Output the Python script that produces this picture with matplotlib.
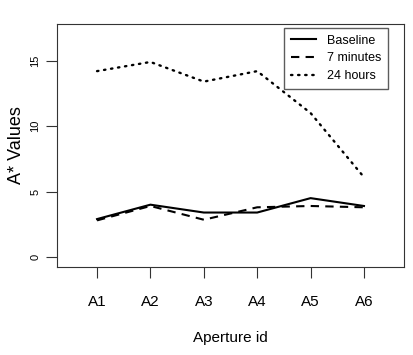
import matplotlib
matplotlib.use('Agg')
import matplotlib.pyplot as plt

plt.rcParams['font.family'] = ['Liberation Sans', 'DejaVu Sans']

apertures = ['A1', 'A2', 'A3', 'A4', 'A5', 'A6']
baseline = [2.9, 4.0, 3.4, 3.4, 4.5, 3.9]
seven_min = [2.8, 3.9, 2.85, 3.8, 3.9, 3.8]
day = [14.2, 14.9, 13.4, 14.2, 11.0, 6.1]

fig = plt.figure(figsize=(4.14, 3.55), dpi=100)
ax = fig.add_axes([57/414, 1 - 267/355, 347/414, 243/355])

x = list(range(1, len(apertures) + 1))
ax.plot(x, baseline, color='black', lw=1.5, ls='-', label='Baseline')
ax.plot(x, seven_min, color='black', lw=1.5, ls=(0, (4, 3)), label='7 minutes')
ax.plot(x, day, color='black', lw=1.7, ls=(0, (0.6, 2.4)), dash_capstyle='round', label='24 hours')

ax.set_xlim(0.25, 6.75)
ax.set_ylim(-0.76, 17.8)
ax.set_xticks(x)
ax.set_xticklabels(apertures, fontsize=11)
ax.set_yticks([0, 5, 10, 15])
ax.set_yticklabels(['0', '5', '10', '15'], fontsize=8, rotation=90, va='center')
ax.tick_params(axis='x', length=8, pad=12, color='#333333')
ax.tick_params(axis='y', length=8, pad=4, color='#333333')
for s in ax.spines.values():
    s.set_color('#333333')
ax.set_xlabel('Aperture id', fontsize=11, labelpad=16)
ax.set_ylabel('A* Values', fontsize=13, labelpad=4)

leg = ax.legend(loc='upper right', bbox_to_anchor=(0.954, 0.984), fontsize=9,
                frameon=True, fancybox=False, edgecolor='#333333',
                handlelength=2.0, borderaxespad=0, borderpad=0.55,
                labelspacing=0.45, handletextpad=0.9)
leg.get_frame().set_linewidth(1.0)

fig.savefig('out.png', dpi=100)
